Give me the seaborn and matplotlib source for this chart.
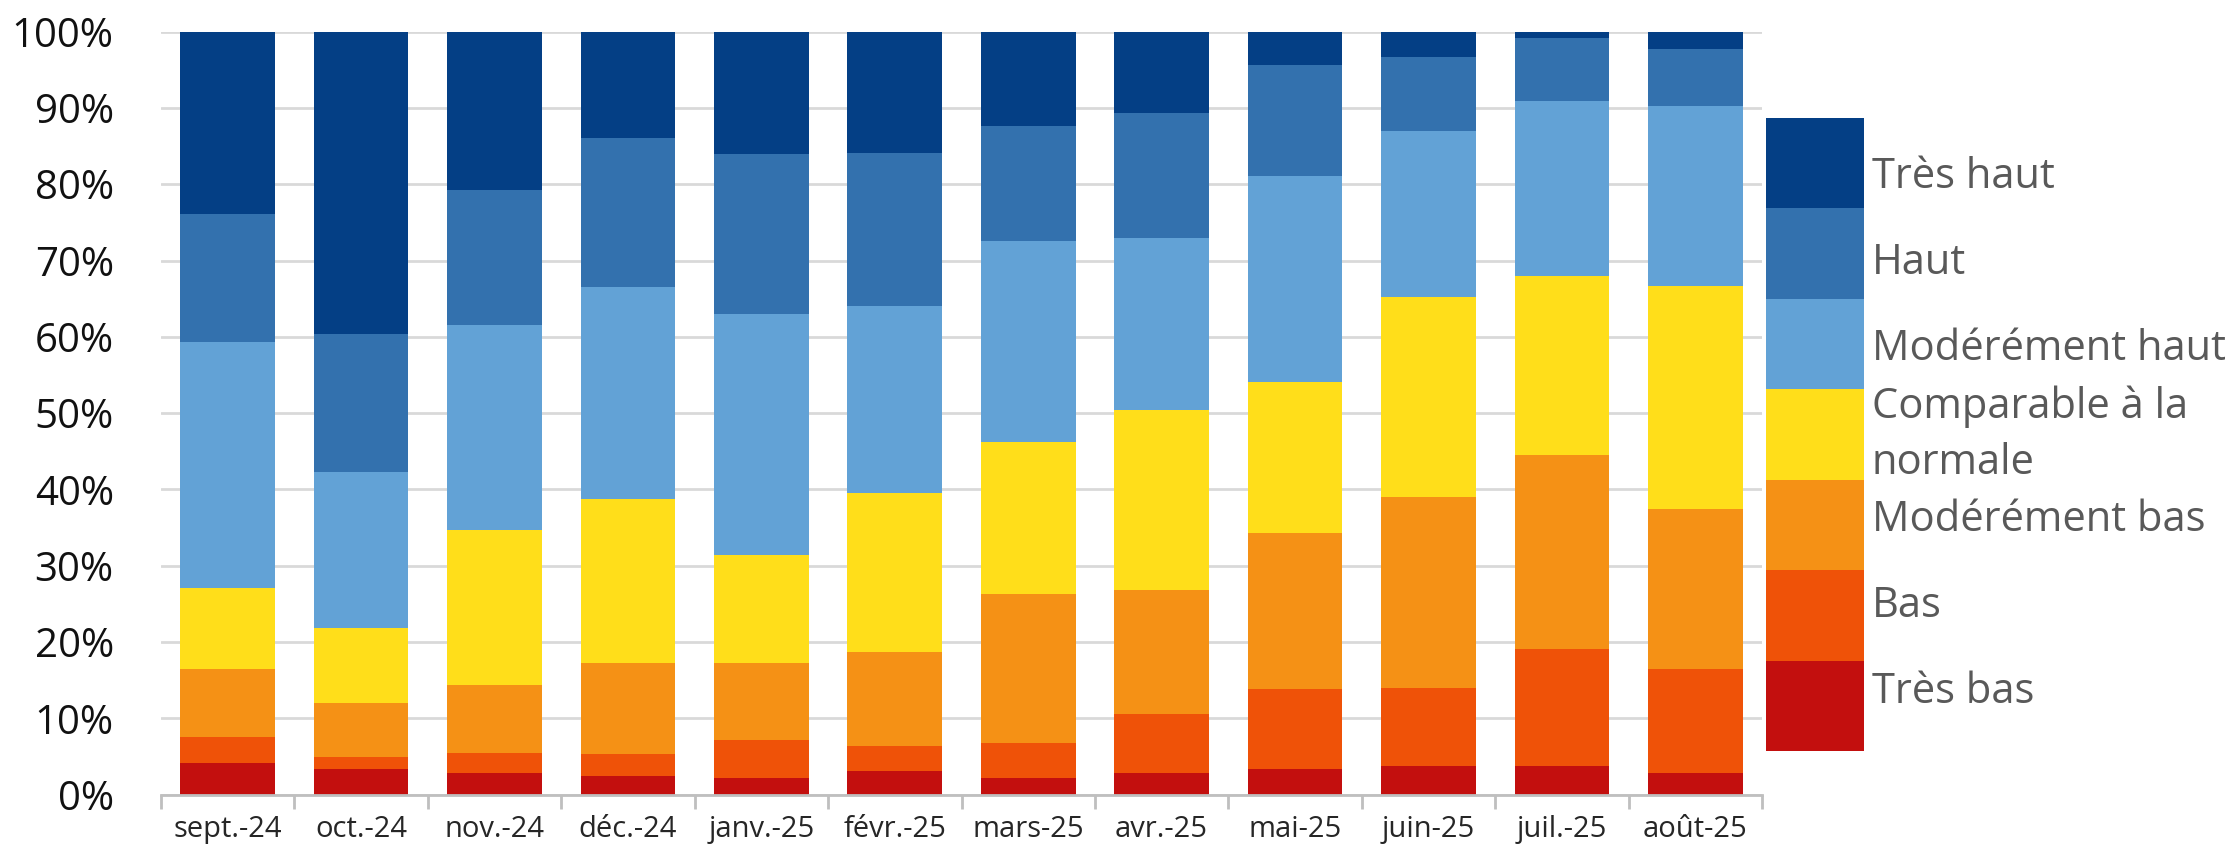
import numpy as np
import pandas as pd
import matplotlib
matplotlib.use("Agg")
import matplotlib.pyplot as plt
import matplotlib.transforms as mtransforms
import seaborn as sns

months = ["sept.-24", "oct.-24", "nov.-24", "déc.-24", "janv.-25", "févr.-25",
          "mars-25", "avr.-25", "mai-25", "juin-25", "juil.-25", "août-25"]

categories = ["Très bas", "Bas", "Modérément bas", "Comparable à la\nnormale",
              "Modérément haut", "Haut", "Très haut"]

tres_bas = [4.1, 3.3, 2.8, 2.4, 2.2, 3.1, 2.2, 2.8, 3.4, 3.8, 3.8, 2.8]
bas = [3.5, 1.6, 2.6, 2.9, 4.9, 3.3, 4.5, 7.7, 10.4, 10.2, 15.3, 13.6]
moderement_bas = [8.9, 7.1, 9.0, 12.0, 10.2, 12.3, 19.6, 16.3, 20.5, 25.0, 25.4, 21.0]
comparable = [10.6, 9.8, 20.3, 21.5, 14.1, 20.8, 19.9, 23.6, 19.8, 26.2, 23.5, 29.3]
moderement_haut = [32.2, 20.5, 26.8, 27.7, 31.6, 24.6, 26.4, 22.5, 27.0, 21.8, 22.9, 23.6]
haut = [16.8, 18.1, 17.7, 19.6, 21.0, 20.0, 15.0, 16.4, 14.5, 9.7, 8.2, 7.4]
tres_haut = [23.9, 39.6, 20.8, 13.9, 16.0, 15.9, 12.4, 10.7, 4.4, 3.3, 0.9, 2.3]

series = [tres_bas, bas, moderement_bas, comparable, moderement_haut, haut, tres_haut]
colors = ["#C30F0E", "#EF5208", "#F59115", "#FFDE1A", "#62A2D6", "#3371AE", "#043F85"]

yticks = [0, 10, 20, 30, 40, 50, 60, 70, 80, 90, 100]
ytick_labels = [f"{v}%" for v in yticks]

sns.set_theme(style="white")
plt.rcParams["font.family"] = ["Open Sans", "DejaVu Sans"]

fig = plt.figure(figsize=(22.4, 8.68), dpi=100)
ax = fig.add_axes([161 / 2240, 1 - 794.6 / 868, (1762 - 161) / 2240, (794.6 - 31.6) / 868])

df = pd.DataFrame({name: vals for name, vals in zip(categories, series)}, index=months)
cum = df.cumsum(axis=1)
cum = cum.div(cum.iloc[:, -1], axis=0) * 100

for i in range(len(categories) - 1, -1, -1):
    sns.barplot(x=months, y=cum.iloc[:, i].values, order=months, color=colors[i],
                saturation=1, width=0.71, linewidth=0, ax=ax, zorder=3)

ax.set_xlim(-0.5, len(months) - 0.5)
ax.set_ylim(0, 100)
ax.set_yticks(yticks)
ax.set_yticklabels(ytick_labels)
ax.yaxis.grid(True, color="#D9D9D9", linewidth=2, zorder=0)
ax.xaxis.grid(False)
ax.set_axisbelow(True)
for s in ["top", "right", "left"]:
    ax.spines[s].set_visible(False)
ax.spines["bottom"].set_color("#BFBFBF")
ax.spines["bottom"].set_linewidth(2)
ax.spines["bottom"].set_zorder(4)

ax.set_xticks(np.arange(-0.5, len(months) + 0.5, 1), minor=True)
ax.tick_params(axis="x", which="minor", length=10, width=2, color="#BFBFBF", bottom=True)
ax.tick_params(axis="x", which="major", length=0, pad=15, labelsize=21, labelcolor="#262626")
ax.tick_params(axis="y", length=0, pad=34, labelsize=29, labelcolor="#111111")
ax.set_xlabel("")
ax.set_ylabel("")

# legend as a single stacked column
lax = fig.add_axes([1766 / 2240, 1 - 751 / 868, (1864 - 1766) / 2240, (751 - 118) / 868])
leg_cum = np.cumsum([1] * len(categories))
for i in range(len(categories) - 1, -1, -1):
    sns.barplot(x=[0], y=[leg_cum[i]], color=colors[i], saturation=1, width=1,
                linewidth=0, ax=lax)
lax.set_xlim(-0.5, 0.5)
lax.set_ylim(0, len(categories))
lax.axis("off")
blend = mtransforms.blended_transform_factory(lax.transAxes, lax.transData)
for i, name in enumerate(categories):
    ypos = 3.5 + (i - 3) * 0.95
    lax.text(1.08, ypos, name, transform=blend,
             fontsize=30, color="#595959", va="center", ha="left", linespacing=1.45)

fig.savefig("out.png", dpi=100)
